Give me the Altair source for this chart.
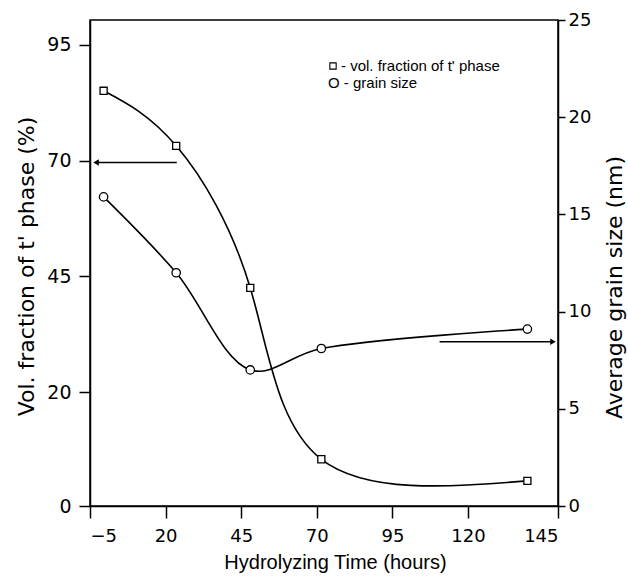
import altair as alt
import pandas as pd

# ---- data ----
hours = [-0.5, 23.5, 48.0, 71.5, 136.5]
vol_fraction = [85.1, 73.2, 42.5, 8.2, 4.4]      # left axis (%)
grain_size = [15.9, 12.0, 7.0, 8.1, 9.1]         # right axis (nm)

x_ticks = [-5, 20, 45, 70, 95, 120, 145]
left_ticks = [0, 20, 45, 70, 95]
right_ticks = [0, 5, 10, 15, 20, 25]

legend_labels = ["- vol. fraction of t' phase", "O - grain size"]

# arrows (annotation: which axis each curve belongs to)
arrow_left = {"t": [23.7], "t2": [-3.0], "vol": [69.6]}
arrow_right = {"t": [110.6], "t2": [143.6], "gs": [8.45]}

W, H = 468, 486
AXFONT = "DejaVu Sans"
TXTFONT = "Liberation Sans"

df = pd.DataFrame({"t": hours, "vol": vol_fraction, "gs": grain_size})

xscale = alt.Scale(domain=[-5, 120, 145], range=[0, 378, W], nice=False, zero=False)
x_enc = alt.X("t:Q", scale=xscale,
              axis=alt.Axis(values=x_ticks, title="Hydrolyzing  Time (hours)",
                            tickSize=12, labelPadding=9,
                            titleX=245, titleY=62, titleBaseline="alphabetic",
                            labelFont=AXFONT, labelFontSize=18,
                            titleFont=TXTFONT, titleFontSize=20,
                            titleFontWeight="normal", format="d"))

yl_scale = alt.Scale(domain=[0, 20, 100.4], range=[H, 372, 0], nice=False, zero=False)
yl_enc = alt.Y("vol:Q", scale=yl_scale,
               axis=alt.Axis(values=left_ticks, title="Vol. fraction of t' phase (%)",
                             orient="left", tickSize=11, labelPadding=8,
                             titleAngle=270, titleX=-64, titleY=246, titleBaseline="middle",
                             labelFont=AXFONT, labelFontSize=19,
                             titleFont=AXFONT, titleFontSize=22, titleFontWeight="normal"))

yr_scale = alt.Scale(domain=[0, 25], range=[H, 0], nice=False, zero=False)
yr_enc = alt.Y("gs:Q", scale=yr_scale,
               axis=alt.Axis(values=right_ticks, title="Average  grain  size  (nm)",
                             orient="right", tickSize=7, labelPadding=3,
                             titleAngle=270, titleX=56, titleY=267, titleBaseline="middle",
                             labelFont=AXFONT, labelFontSize=18,
                             titleFont=AXFONT, titleFontSize=22, titleFontWeight="normal"))

base = alt.Chart(df)

# ---- left group: volume fraction ----
vol_line = base.mark_line(color="black", strokeWidth=1.6, interpolate="natural").encode(x=x_enc, y=yl_enc)
vol_pts = base.mark_point(shape="square", size=50, filled=True, fill="white",
                          stroke="black", strokeWidth=1.3, opacity=1).encode(x=x_enc, y=yl_enc)
al = alt.Chart(pd.DataFrame(arrow_left))
al_rule = al.mark_rule(color="black", strokeWidth=1.4).encode(x=x_enc, x2="t2:Q", y=yl_enc)
al_head = al.mark_point(shape="triangle-left", size=40, filled=True, color="black", opacity=1).encode(
    x=alt.X("t2:Q", scale=xscale), y=yl_enc)

leg_sym = alt.Chart(pd.DataFrame({"k": [0]})).mark_point(
    shape="square", size=40, filled=False, stroke="black", strokeWidth=1.1, opacity=1
).encode(x=alt.value(243), y=alt.value(46))
leg1 = alt.Chart(pd.DataFrame({"label": [legend_labels[0]]})).mark_text(
    align="left", baseline="alphabetic", font=TXTFONT, fontSize=15, color="black"
).encode(x=alt.value(251), y=alt.value(51), text="label:N")
leg2 = alt.Chart(pd.DataFrame({"label": [legend_labels[1]]})).mark_text(
    align="left", baseline="alphabetic", font=TXTFONT, fontSize=15, color="black"
).encode(x=alt.value(238), y=alt.value(68), text="label:N")

left = alt.layer(vol_line, vol_pts, al_rule, al_head, leg_sym, leg1, leg2)

# ---- right group: grain size ----
gs_line = base.mark_line(color="black", strokeWidth=1.6, interpolate="catmull-rom").encode(x=x_enc, y=yr_enc)
gs_pts = base.mark_point(shape="circle", size=70, filled=True, fill="white",
                         stroke="black", strokeWidth=1.3, opacity=1).encode(x=x_enc, y=yr_enc)
ar = alt.Chart(pd.DataFrame(arrow_right))
ar_rule = ar.mark_rule(color="black", strokeWidth=1.4).encode(x=x_enc, x2="t2:Q", y=yr_enc)
ar_head = ar.mark_point(shape="triangle-right", size=40, filled=True, color="black", opacity=1).encode(
    x=alt.X("t2:Q", scale=xscale), y=yr_enc)

right = alt.layer(gs_line, gs_pts, ar_rule, ar_head)

chart = alt.layer(left, right).resolve_scale(y="independent").properties(
    width=W, height=H,
    autosize=alt.AutoSizeParams(type="none"),
    padding={"left": 90, "top": 20, "right": 70, "bottom": 71},
    background="white",
).configure_view(
    stroke="black", strokeWidth=1.5
).configure_axis(
    grid=False, domainColor="black", domainWidth=1.5, tickColor="black", tickWidth=1.5,
    labelColor="black", titleColor="black",
)

chart.save("out.html", embed_options={"renderer": "svg", "actions": False})
